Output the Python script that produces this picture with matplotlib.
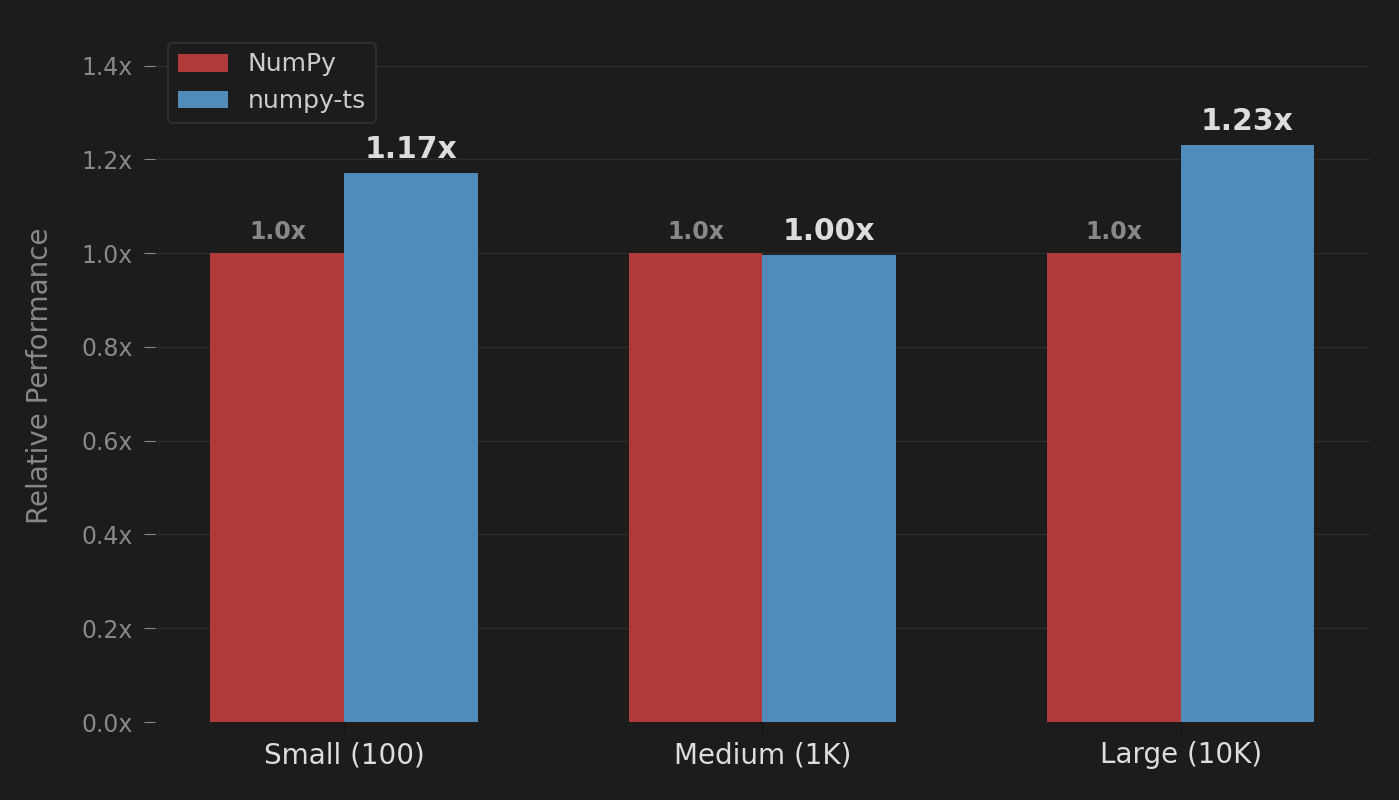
import matplotlib
matplotlib.use("Agg")
import matplotlib.pyplot as plt
import numpy as np

# data
categories = ["Small (100)", "Medium (1K)", "Large (10K)"]
numpy_vals = [1.0, 1.0, 1.0]
numpy_ts_vals = [1.17, 0.996, 1.23]
numpy_labels = ["1.0x", "1.0x", "1.0x"]
numpy_ts_labels = ["1.17x", "1.00x", "1.23x"]
series_names = ["NumPy", "numpy-ts"]

bg = "#1c1c1c"
red = "#b0393a"
blue = "#508bba"

fig = plt.figure(figsize=(13.99, 8), dpi=100, facecolor=bg)
ax = fig.add_axes([0.111, 0.0975, 0.868, 0.865])
ax.set_facecolor(bg)

x = np.arange(len(categories))
w = 0.32
b1 = ax.bar(x - w / 2, numpy_vals, w, color=red, label=series_names[0], zorder=3)
b2 = ax.bar(x + w / 2, numpy_ts_vals, w, color=blue, label=series_names[1], zorder=3)

for rect, lab in zip(b1, numpy_labels):
    ax.text(rect.get_x() + rect.get_width() / 2, rect.get_height() + 0.02, lab,
            ha="center", va="bottom", color="#888888", fontsize=17, fontweight="bold")
for rect, lab in zip(b2, numpy_ts_labels):
    ax.text(rect.get_x() + rect.get_width() / 2, rect.get_height() + 0.02, lab,
            ha="center", va="bottom", color="#dddddd", fontsize=21.5, fontweight="bold")

ax.set_ylim(0, max(numpy_ts_vals) * 1.2)
yt = np.arange(0, 1.41, 0.2)
ax.set_yticks(yt)
ax.set_yticklabels([f"{v:.1f}x" for v in yt])
ax.set_xticks(x)
ax.set_xticklabels(categories)
ax.tick_params(axis="y", colors="#888888", labelsize=17, length=8, pad=8)
ax.tick_params(axis="x", colors="#111111", labelcolor="#dddddd", labelsize=20, length=8, pad=6)
ax.set_ylabel("Relative Performance", color="#888888", fontsize=20, labelpad=20)

ax.grid(axis="y", color="#2c2c2c", linewidth=1, zorder=0)
for s in ax.spines.values():
    s.set_visible(False)

leg = ax.legend(loc="upper left", fontsize=18,
                facecolor=bg, edgecolor="#333333", labelcolor="#cccccc",
                handlelength=2.0, borderpad=0.4)
leg.get_frame().set_linewidth(1.5)

fig.savefig("out.png", dpi=100, facecolor=bg)
